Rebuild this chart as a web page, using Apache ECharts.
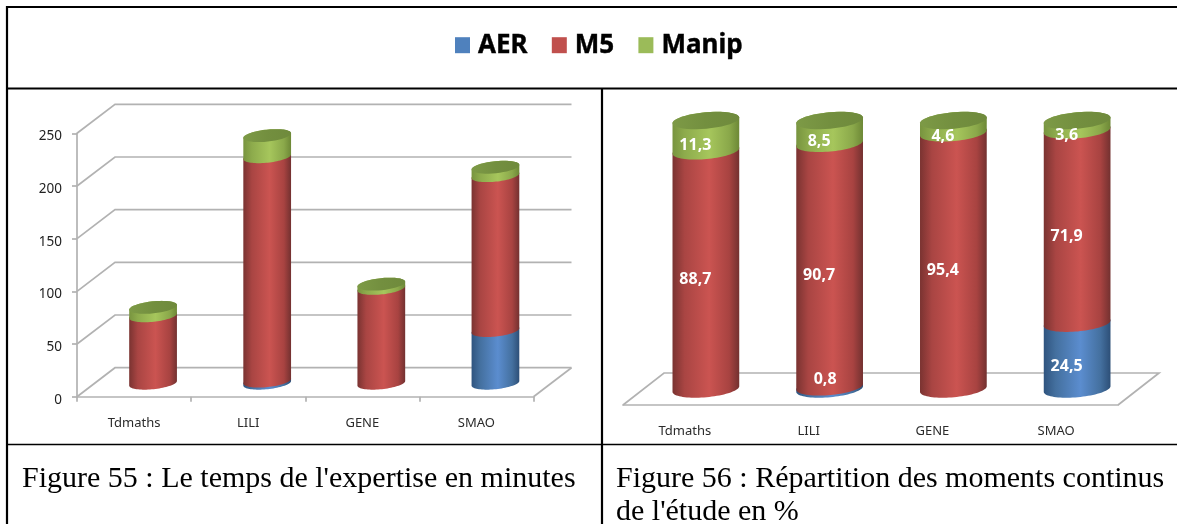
<!DOCTYPE html>
<html><head><meta charset="utf-8">
<style>html,body{margin:0;padding:0;background:#fff}#c{width:1177px;height:524px}</style>
<script src="https://cdn.jsdelivr.net/npm/echarts@6/dist/echarts.min.js"></script>
</head><body><div id="c"></div>
<script>
const categories = ['Tdmaths', 'LILI', 'GENE', 'SMAO'];
const seriesNames = ['AER', 'M5', 'Manip'];
const timeTicks = [0, 50, 100, 150, 200, 250];
const timeAER = [0, 2, 0, 50];
const timeM5 = [64, 213, 90, 147];
const timeManip = [8, 20, 4, 8];
const shareAER = [0, 0.8, 0, 24.5];
const shareM5 = [88.7, 90.7, 95.4, 71.9];
const shareManip = [11.3, 8.5, 4.6, 3.6];
const captionLeft = ["Figure 55 : Le temps de l'expertise en minutes"];
const captionRight = ['Figure 56 : Répartition des moments continus', "de l'étude en %"];

const SANS = '"Noto Sans", sans-serif';
const LEGEND_COLORS = {AER: '#4f81bd', M5: '#c0504d', Manip: '#9bbb59'};
const SIDE = {
  AER: ['#2f547f', '#44709f', '#5b8dcf', '#44709f', '#2d4f77'],
  M5: ['#7a3331', '#a94543', '#cb5451', '#a84341', '#733130'],
  Manip: ['#78943f', '#8dab4c', '#a6c65c', '#8aa84a', '#6d8836']
};
const TOP_FACE = ['#7d9a46', '#738f3f', '#6f8a3c'];

function grad(stops) {
  const at = stops.length === 5 ? [0, 0.18, 0.55, 0.85, 1] : [0, 0.5, 1];
  return {type: 'linear', x: 0, y: 0, x2: 1, y2: 0,
    colorStops: stops.map((c, i) => ({offset: at[i], color: c}))};
}
function arc(cx, cy, rx, ry, tilt, from, to) {
  const pts = [], n = 40, c = Math.cos(tilt), s = Math.sin(tilt);
  for (let i = 0; i <= n; i++) {
    const t = from + (to - from) * i / n;
    const ex = rx * Math.cos(t), ey = ry * Math.sin(t);
    pts.push([cx + ex * c + ey * s, cy - ex * s + ey * c]);
  }
  return pts;
}
// look = bar half width, ellipse height, tilt and the 3D shift of the bars
function cylinderSeries(name, xAxisIndex, look, lows, vals, isTop) {
  return {
    type: 'custom', name, xAxisIndex, yAxisIndex: xAxisIndex, z: 5, clip: false, silent: true,
    itemStyle: {color: LEGEND_COLORS[name]},
    encode: {x: 0, y: [1, 2]},
    data: vals.map((v, i) => [i, lows[i], lows[i] + v]),
    renderItem(params, api) {
      const low = api.value(1), high = api.value(2);
      if (high <= low) return null;
      const a = api.coord([api.value(0), low]), b = api.coord([api.value(0), high]);
      const cx = a[0] + look.dx, yb = a[1] + look.dy, yt = b[1] + look.dy;
      const body = arc(cx, yb, look.rx, look.ry, look.tilt, Math.PI, 0)
        .concat(arc(cx, yt, look.rx, look.ry, look.tilt, 0, -Math.PI));
      const children = [{type: 'polygon', shape: {points: body},
        style: {fill: grad(SIDE[name])}}];
      if (isTop) children.push({type: 'polygon',
        shape: {points: arc(cx, yt, look.rx, look.ry, look.tilt, 0, Math.PI * 2)},
        style: {fill: grad(TOP_FACE)}});
      return {type: 'group', children};
    }
  };
}
function cumul(...arrs) {
  return arrs[0].map((_, i) => arrs.reduce((s, a) => s + a[i], 0));
}
const zeros = categories.map(() => 0);
const LOOK_L = {rx: 24, ry: 6, tilt: 0.105, dx: 19, dy: -13.5};
const LOOK_R = {rx: 33.5, ry: 8.2, tilt: 0.09, dx: 21, dy: -16};
const WALL_L = {dx: 38, dy: -29}, WALL_R = {dx: 41, dy: -32};
const GRID_LINE = {stroke: '#b2b2b2', lineWidth: 1.7, fill: 'none'};

const wallSeries = {
  type: 'custom', name: 'wall', xAxisIndex: 0, yAxisIndex: 0, z: 2, clip: false, silent: true,
  encode: {y: 0},
  data: timeTicks.map(v => [v]),
  renderItem(params, api) {
    const cs = params.coordSys, y = api.coord([0, api.value(0)])[1];
    const x0 = cs.x, x1 = cs.x + cs.width, bx = WALL_L.dx, by = WALL_L.dy;
    const pts = [[x0, y], [x0 + bx, y + by], [x1 + bx, y + by]];
    const kids = [{type: 'polyline', shape: {points: pts}, style: GRID_LINE}];
    if (api.value(0) === 0) kids.push({type: 'polyline',
      shape: {points: [[x1, y], [x1 + bx, y + by]]}, style: GRID_LINE});
    return {type: 'group', children: kids};
  }
};
const floorSeries = {
  type: 'custom', name: 'floor', xAxisIndex: 1, yAxisIndex: 1, z: 2, clip: false, silent: true,
  encode: {y: 0},
  data: [[0]],
  renderItem(params, api) {
    const cs = params.coordSys, y = api.coord([0, api.value(0)])[1];
    const x0 = cs.x, x1 = cs.x + cs.width, bx = WALL_R.dx, by = WALL_R.dy;
    return {type: 'polyline',
      shape: {points: [[x0, y], [x0 + bx, y + by], [x1 + bx, y + by], [x1, y]]},
      style: GRID_LINE};
  }
};
const labelSeries = (() => {
  const rows = [];
  categories.forEach((c, i) => {
    rows.push([i, 0, shareAER[i]]);
    rows.push([i, shareAER[i], shareM5[i]]);
    rows.push([i, shareAER[i] + shareM5[i], shareManip[i]]);
  });
  return {
    type: 'custom', name: 'values', xAxisIndex: 1, yAxisIndex: 1, z: 8, clip: false, silent: true,
    encode: {x: 0, y: 1},
    data: rows,
    renderItem(params, api) {
      const v = api.value(2);
      if (!v) return null;
      const p = api.coord([api.value(0), api.value(1) + v / 2]);
      const tiny = v < 1;
      return {type: 'text', x: p[0] + LOOK_R.dx + (tiny ? -4.5 : -10.5), y: p[1] + LOOK_R.dy + (tiny ? -8 : 10),
        style: {text: String(v).replace('.', ','), fill: '#fff', align: 'center', verticalAlign: 'middle',
          font: 'bold 16px ' + SANS}};
    }
  };
})();

const rule = (x1, y1, x2, y2, w, c) => ({type: 'line', silent: true,
  shape: {x1, y1, x2, y2}, style: {stroke: c || '#000', lineWidth: w}});
const cap = (text, x, y) => ({type: 'text', x, y, silent: true,
  style: {text, fill: '#000', font: '30px "Liberation Serif", serif', align: 'left', verticalAlign: 'top'}});

const option = {
  animation: false,
  backgroundColor: '#fff',
  legend: {
    left: 455, top: 32, padding: 0, selectedMode: false, itemWidth: 15, itemHeight: 16, itemGap: 24,
    icon: 'rect', data: seriesNames,
    textStyle: {color: '#000', fontWeight: 'bold', fontSize: 26, fontFamily: SANS, padding: [0, 0, 0, 3],
      textBorderColor: '#000', textBorderWidth: 0.4}
  },
  grid: [
    {left: 77, top: 133.3, width: 456.5, height: 263.4},
    {left: 623, top: 136.5, width: 495, height: 268.5}
  ],
  xAxis: [0, 1].map(i => ({
    type: 'category', gridIndex: i, data: categories,
    axisLine: {lineStyle: {color: '#b2b2b2', width: 1.7}},
    axisTick: {show: i === 0, length: 5, lineStyle: {color: '#b2b2b2', width: 1.7}},
    axisLabel: {color: '#2b2b2b', fontSize: 13, fontFamily: SANS, margin: 20}
  })),
  yAxis: [
    {type: 'value', gridIndex: 0, min: 0, max: 250, interval: 50,
      axisLine: {show: true, lineStyle: {color: '#b2b2b2', width: 1.7}},
      axisTick: {show: true, length: 5, lineStyle: {color: '#b2b2b2', width: 1.7}},
      splitLine: {show: false},
      axisLabel: {color: '#222', fontSize: 13.5, fontFamily: SANS, margin: 15, verticalAlign: 'top', lineHeight: 6}},
    {type: 'value', gridIndex: 1, min: 0, max: 100, interval: 20, show: false, splitLine: {show: false}}
  ],
  graphic: {elements: [
    rule(6, 7, 1177, 7, 2.2),
    rule(7, 6, 7, 524, 2.2),
    rule(6, 88.5, 1177, 88.5, 2),
    rule(6, 444.5, 1177, 444.5, 1.5),
    rule(602, 88, 602, 524, 2.2),
    cap(captionLeft[0], 22, 464),
    cap(captionRight[0], 616, 464),
    cap(captionRight[1], 616, 497.5)
  ]},
  series: [
    wallSeries,
    cylinderSeries('AER', 0, LOOK_L, zeros, timeAER, false),
    cylinderSeries('M5', 0, LOOK_L, timeAER, timeM5, false),
    cylinderSeries('Manip', 0, LOOK_L, cumul(timeAER, timeM5), timeManip, true),
    floorSeries,
    cylinderSeries('AER', 1, LOOK_R, zeros, shareAER, false),
    cylinderSeries('M5', 1, LOOK_R, shareAER, shareM5, false),
    cylinderSeries('Manip', 1, LOOK_R, cumul(shareAER, shareM5), shareManip, true),
    labelSeries
  ]
};
echarts.init(document.getElementById('c'), null, {renderer: 'canvas'}).setOption(option);
</script></body></html>
